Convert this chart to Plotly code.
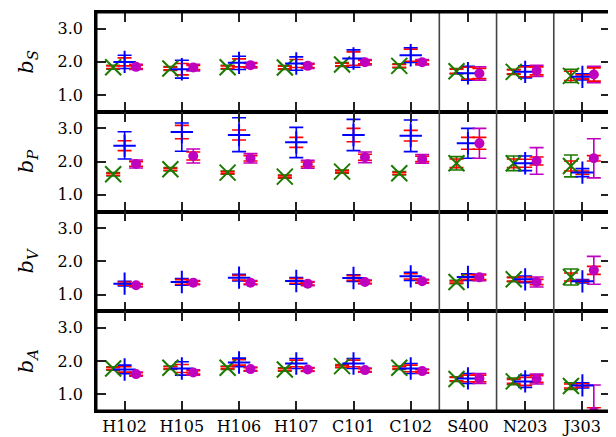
import plotly.graph_objects as go
from plotly.subplots import make_subplots

categories = ["H102", "H105", "H106", "H107", "C101", "C102", "S400", "N203", "J303"]
panel_titles = ["<i>b</i><sub><i>S</i></sub>", "<i>b</i><sub><i>P</i></sub>",
                "<i>b</i><sub><i>V</i></sub>", "<i>b</i><sub><i>A</i></sub>"]
ytick_vals = [1.0, 2.0, 3.0]
ytick_text = ["1.0", "2.0", "3.0"]

# ---- b_S ----
bS_green = [1.84, 1.80, 1.84, 1.83, 1.92, 1.88, 1.72, 1.70, 1.58]
bS_green_stat = [0.04, 0.04, 0.04, 0.04, 0.04, 0.04, 0.06, 0.06, 0.14]
bS_green_tot = [0.06, 0.06, 0.06, 0.06, 0.06, 0.06, 0.08, 0.08, 0.20]
bS_blue = [2.00, 1.78, 1.97, 1.95, 2.10, 2.20, 1.66, 1.70, 1.55]
bS_blue_stat = [0.12, 0.17, 0.12, 0.12, 0.20, 0.18, 0.18, 0.15, 0.06]
bS_blue_tot = [0.20, 0.27, 0.20, 0.20, 0.26, 0.22, 0.21, 0.18, 0.09]
bS_mag = [1.85, 1.83, 1.90, 1.88, 1.99, 1.99, 1.65, 1.73, 1.62]
bS_mag_stat = [0.05, 0.06, 0.05, 0.05, 0.05, 0.05, 0.15, 0.12, 0.20]
bS_mag_tot = [0.08, 0.10, 0.08, 0.08, 0.08, 0.08, 0.20, 0.17, 0.25]

# ---- b_P ----
bP_green = [1.62, 1.77, 1.67, 1.55, 1.70, 1.65, 1.95, 1.95, 1.87]
bP_green_stat = [0.03, 0.03, 0.03, 0.03, 0.03, 0.03, 0.13, 0.13, 0.15]
bP_green_tot = [0.05, 0.05, 0.05, 0.05, 0.05, 0.05, 0.20, 0.22, 0.33]
bP_blue = [2.48, 2.89, 2.80, 2.58, 2.80, 2.78, 2.55, 1.95, 1.67]
bP_blue_stat = [0.15, 0.20, 0.15, 0.15, 0.20, 0.16, 0.18, 0.12, 0.05]
bP_blue_tot_plus = [0.42, 0.27, 0.52, 0.45, 0.47, 0.47, 0.45, 0.22, 0.12]
bP_blue_tot_minus = [0.40, 0.58, 0.50, 0.46, 0.47, 0.48, 0.45, 0.22, 0.12]
bP_mag = [1.93, 2.17, 2.10, 1.92, 2.13, 2.08, 2.55, 2.02, 2.10]
bP_mag_stat = [0.07, 0.12, 0.08, 0.07, 0.09, 0.08, 0.18, 0.12, 0.08]
bP_mag_tot = [0.12, 0.21, 0.14, 0.12, 0.16, 0.13, 0.45, 0.40, 0.59]

# ---- b_V ----
bV_green = [None, None, None, None, None, None, 1.38, 1.46, 1.53]
bV_green_stat = [0, 0, 0, 0, 0, 0, 0.03, 0.05, 0.12]
bV_green_tot = [0, 0, 0, 0, 0, 0, 0.05, 0.07, 0.24]
bV_blue = [1.33, 1.38, 1.51, 1.41, 1.50, 1.55, 1.53, 1.46, 1.40]
bV_blue_stat = [0.05, 0.07, 0.07, 0.07, 0.07, 0.08, 0.07, 0.07, 0.03]
bV_blue_tot = [0.07, 0.10, 0.10, 0.10, 0.10, 0.12, 0.10, 0.10, 0.05]
bV_mag = [1.28, 1.36, 1.36, 1.33, 1.38, 1.40, 1.52, 1.38, 1.73]
bV_mag_stat = [0.03, 0.04, 0.04, 0.04, 0.04, 0.04, 0.07, 0.08, 0.12]
bV_mag_tot = [0.05, 0.06, 0.06, 0.06, 0.06, 0.06, 0.10, 0.15, 0.42]

# ---- b_A ----
bA_green = [1.78, 1.80, 1.80, 1.75, 1.85, 1.80, 1.46, 1.39, 1.25]
bA_green_stat = [0.03, 0.03, 0.03, 0.03, 0.03, 0.03, 0.05, 0.06, 0.06]
bA_green_tot = [0.05, 0.05, 0.05, 0.05, 0.05, 0.05, 0.07, 0.10, 0.10]
bA_blue = [1.75, 1.78, 1.96, 1.93, 1.93, 1.78, 1.48, 1.39, 1.27]
bA_blue_stat = [0.08, 0.12, 0.08, 0.10, 0.10, 0.10, 0.10, 0.12, 0.05]
bA_blue_tot = [0.13, 0.20, 0.13, 0.15, 0.15, 0.15, 0.15, 0.18, 0.08]
bA_mag = [1.61, 1.66, 1.76, 1.75, 1.73, 1.70, 1.48, 1.46, 0.48]
bA_mag_stat = [0.04, 0.05, 0.04, 0.04, 0.04, 0.04, 0.10, 0.10, 0.12]
bA_mag_tot = [0.06, 0.08, 0.06, 0.06, 0.06, 0.06, 0.15, 0.15, 0.80]

GREEN = "#1d7a00"
BLUE = "#0000ff"
MAG = "#bf00bf"
RED = "#ff0000"
FONT = "DejaVu Serif"

panels = [
    dict(g=(bS_green, bS_green_stat, bS_green_tot, bS_green_tot),
         b=(bS_blue, bS_blue_stat, bS_blue_tot, bS_blue_tot),
         m=(bS_mag, bS_mag_stat, bS_mag_tot, bS_mag_tot)),
    dict(g=(bP_green, bP_green_stat, bP_green_tot, bP_green_tot),
         b=(bP_blue, bP_blue_stat, bP_blue_tot_plus, bP_blue_tot_minus),
         m=(bP_mag, bP_mag_stat, bP_mag_tot, bP_mag_tot)),
    dict(g=(bV_green, bV_green_stat, bV_green_tot, bV_green_tot),
         b=(bV_blue, bV_blue_stat, bV_blue_tot, bV_blue_tot),
         m=(bV_mag, bV_mag_stat, bV_mag_tot, bV_mag_tot)),
    dict(g=(bA_green, bA_green_stat, bA_green_tot, bA_green_tot),
         b=(bA_blue, bA_blue_stat, bA_blue_tot, bA_blue_tot),
         m=(bA_mag, bA_mag_stat, bA_mag_tot, bA_mag_tot)),
]

offsets = {"g": -0.2, "b": 0.0, "m": 0.2}
colors = {"g": GREEN, "b": BLUE, "m": MAG}
markers = {
    "g": dict(symbol="x-thin", size=16, color=GREEN, line=dict(width=2, color=GREEN)),
    "b": dict(symbol="cross-thin", size=16, color=BLUE, line=dict(width=2, color=BLUE)),
    "m": dict(symbol="circle", size=10, color=MAG, line=dict(width=0)),
}

fig = make_subplots(rows=4, cols=1, shared_xaxes=True, vertical_spacing=0)
idx = list(range(len(categories)))

for r, p in enumerate(panels, start=1):
    for k in ["g", "b", "m"]:
        val, stat, tp, tm = p[k]
        xs = [i + offsets[k] for i in idx]
        fig.add_trace(go.Scatter(
            x=xs, y=val, mode="markers",
            marker=dict(size=1, color="rgba(0,0,0,0)"),
            error_y=dict(type="data", symmetric=False, array=tp, arrayminus=tm,
                         color=colors[k], thickness=1.6, width=7),
            showlegend=False, hoverinfo="skip"), row=r, col=1)
    for k in ["g", "b", "m"]:
        val, stat, tp, tm = p[k]
        xs = [i + offsets[k] for i in idx]
        fig.add_trace(go.Scatter(
            x=xs, y=val, mode="markers",
            marker=dict(size=1, color="rgba(0,0,0,0)"),
            error_y=dict(type="data", array=stat, color=RED, thickness=1.6, width=7),
            showlegend=False, hoverinfo="skip"), row=r, col=1)
    for k in ["g", "b", "m"]:
        val, stat, tp, tm = p[k]
        xs = [i + offsets[k] for i in idx]
        fig.add_trace(go.Scatter(
            x=xs, y=val, mode="markers", marker=markers[k],
            showlegend=False, hoverinfo="skip"), row=r, col=1)

    fig.update_yaxes(
        row=r, col=1, range=[0.5, 3.5], tickvals=ytick_vals, ticktext=ytick_text,
        ticks="inside", ticklen=10, tickwidth=1.5, tickcolor="#222",
        showline=True, linewidth=1.5, linecolor="black", mirror="ticks",
        showgrid=False, zeroline=False, automargin=False, ticklabelstandoff=8,
        tickfont=dict(family=FONT, size=16, color="black"),
        title=dict(text=panel_titles[r - 1], standoff=18,
                   font=dict(family=FONT, size=21, color="black")))
    fig.update_xaxes(
        row=r, col=1, range=[-0.5, 8.5], tickvals=idx, ticktext=categories,
        ticks="inside", ticklen=10, tickwidth=1.5, tickcolor="#222",
        showline=True, linewidth=1.5, linecolor="black", mirror="ticks",
        showgrid=False, zeroline=False, showticklabels=(r == 4), automargin=False,
        ticklabelstandoff=0,
        tickfont=dict(family=FONT, size=16, color="black"))

for xv in [5.5, 6.5, 7.5]:
    fig.add_shape(type="line", xref="x", yref="paper", x0=xv, x1=xv, y0=0, y1=1,
                  line=dict(color="#444", width=1.6), layer="above")
fig.add_shape(type="rect", xref="paper", yref="paper", x0=0, x1=1, y0=0, y1=1,
              line=dict(color="black", width=3), layer="above")

fig.update_layout(
    width=608, height=429,
    margin=dict(l=88, r=5, t=4, b=26),
    paper_bgcolor="white", plot_bgcolor="white",
    font=dict(family=FONT, color="black"),
)

fig.write_html("out.html")
